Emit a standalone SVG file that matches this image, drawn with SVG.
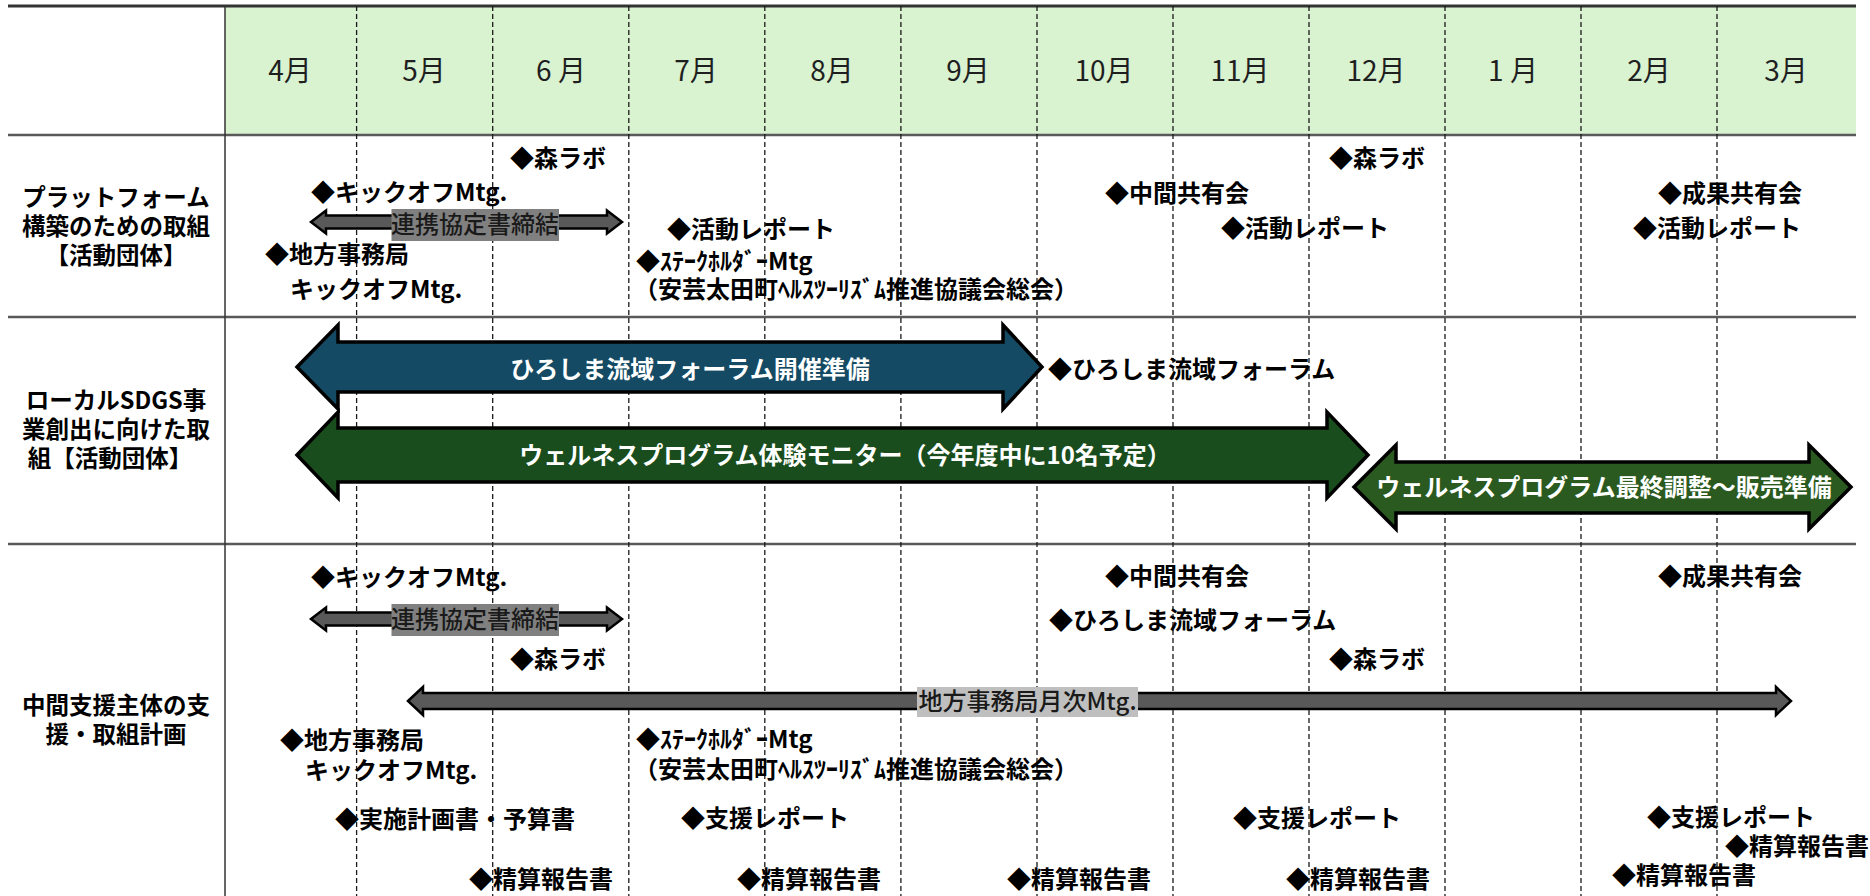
<svg xmlns="http://www.w3.org/2000/svg" width="1870" height="896" viewBox="0 0 1870 896">
<style>
text{font-family:"Noto Sans CJK JP","Noto Sans",sans-serif;}
.month{font-size:28px;font-weight:400;fill:#1f1f1f;text-anchor:middle}
.rl{font-size:23.5px;font-weight:700;fill:#000;text-anchor:middle}
.it{font-size:24px;font-weight:700;fill:#000}
.at{font-size:24px;font-weight:700;fill:#fff;text-anchor:middle}
.bl{font-size:24px;font-weight:500;fill:#1a1a1a;text-anchor:middle}
.dash{stroke:#1a1a1a;stroke-width:1.3;stroke-dasharray:5 3;fill:none}
.hl{stroke:#595959;stroke-width:2.5;fill:none}
.garrow{fill:#595959;stroke:#000;stroke-width:2.5;stroke-linejoin:miter}
.barrow{stroke:#000;stroke-width:3.5;stroke-linejoin:miter}
</style>
<rect width="1870" height="896" fill="#fff"/>
<g id="grid">
<rect x="225" y="6" width="1631" height="129" fill="#d9f2d0"/>
<line class="hl" x1="8" y1="6" x2="1856" y2="6" style="stroke:#333;stroke-width:3"/>
<line class="hl" x1="8" y1="135" x2="1856" y2="135"/>
<line class="hl" x1="8" y1="317" x2="1856" y2="317"/>
<line class="hl" x1="8" y1="544" x2="1856" y2="544"/>
<line x1="225" y1="6" x2="225" y2="896" stroke="#333" stroke-width="1.5"/>
<line class="dash" x1="356.6" y1="6" x2="356.6" y2="896"/>
<line class="dash" x1="492.7" y1="6" x2="492.7" y2="896"/>
<line class="dash" x1="628.8" y1="6" x2="628.8" y2="896"/>
<line class="dash" x1="764.8" y1="6" x2="764.8" y2="896"/>
<line class="dash" x1="900.9" y1="6" x2="900.9" y2="896"/>
<line class="dash" x1="1037" y1="6" x2="1037" y2="896"/>
<line class="dash" x1="1173" y1="6" x2="1173" y2="896"/>
<line class="dash" x1="1309" y1="6" x2="1309" y2="896"/>
<line class="dash" x1="1445" y1="6" x2="1445" y2="896"/>
<line class="dash" x1="1581" y1="6" x2="1581" y2="896"/>
<line class="dash" x1="1717" y1="6" x2="1717" y2="896"/>
</g>
<g id="months">
<text class="month" x="290" y="81">4月</text>
<text class="month" x="424" y="81">5月</text>
<text class="month" x="561" y="81">6 月</text>
<text class="month" x="696" y="81">7月</text>
<text class="month" x="832" y="81">8月</text>
<text class="month" x="968" y="81">9月</text>
<text class="month" x="1104" y="81">10月</text>
<text class="month" x="1240" y="81">11月</text>
<text class="month" x="1376" y="81">12月</text>
<text class="month" x="1513" y="81">1 月</text>
<text class="month" x="1649" y="81">2月</text>
<text class="month" x="1786" y="81">3月</text>
</g>
<g id="row-labels">
<text class="rl" x="116" y="206">プラットフォーム</text>
<text class="rl" x="116" y="235">構築のための取組</text>
<text class="rl" x="116" y="264">【活動団体】</text>
<text class="rl" x="116" y="409">ローカルSDGS事</text>
<text class="rl" x="116" y="438">業創出に向けた取</text>
<text class="rl" x="110" y="467">組【活動団体】</text>
<text class="rl" x="116" y="714">中間支援主体の支</text>
<text class="rl" x="116" y="743">援・取組計画</text>
</g>
<g id="connectors">
<polygon id="arrow-renkei-1" class="garrow" points="311,222 326,210.5 326,215.5 607,215.5 607,210.5 622,222 607,233.5 607,228.5 326,228.5 326,233.5"/>
<polygon id="arrow-renkei-3" class="garrow" points="311,619 326,607.5 326,612.5 607,612.5 607,607.5 622,619 607,630.5 607,625.5 326,625.5 326,630.5"/>
<polygon id="arrow-monthly" class="garrow" points="408,701 423,687 423,693 1776,693 1776,687 1791,701 1776,715 1776,709 423,709 423,715"/>
<polygon id="arrow-forum" class="barrow" fill="#144a63" points="297,367 338,325 338,342 1003,342 1003,325 1042,367 1003,409 1003,392 338,392 338,409"/>
<polygon id="arrow-wellness" class="barrow" fill="#1a4d1d" points="297,455 338,412 338,428 1327,428 1327,412 1368,455 1327,498 1327,482 338,482 338,498"/>
<polygon id="arrow-wellness-final" class="barrow" fill="#2a5a1f" points="1354,487 1396,445 1396,462 1809,462 1809,445 1851,487 1809,529 1809,513 1396,513 1396,529"/>
</g>
<g id="arrow-labels">
<rect x="391.5" y="209" width="167.5" height="32" fill="#808080"/>
<text class="bl" x="475" y="233">連携協定書締結</text>
<rect x="391.5" y="604" width="167.5" height="32" fill="#808080"/>
<text class="bl" x="475" y="628">連携協定書締結</text>
<rect x="917" y="687" width="221" height="30" fill="#bfbfbf"/>
<text class="bl" x="1027.5" y="710">地方事務局月次Mtg.</text>
<text class="at" x="690" y="378">ひろしま流域フォーラム開催準備</text>
<text class="at" x="845" y="464">ウェルネスプログラム体験モニター（今年度中に10名予定）</text>
<text class="at" x="1604" y="496">ウェルネスプログラム最終調整～販売準備</text>
</g>
<g id="row1-items">
<text class="it" x="510" y="167">◆森ラボ</text>
<text class="it" x="311" y="201">◆キックオフMtg.</text>
<text class="it" x="667" y="238">◆活動レポート</text>
<text class="it" x="265" y="263">◆地方事務局</text>
<text class="it" x="290" y="298">キックオフMtg.</text>
<text class="it" x="636" y="270">◆ｽﾃｰｸﾎﾙﾀﾞｰMtg</text>
<text class="it" x="634" y="298">（安芸太田町ﾍﾙｽﾂｰﾘｽﾞﾑ推進協議会総会）</text>
<text class="it" x="1105" y="202">◆中間共有会</text>
<text class="it" x="1221" y="237">◆活動レポート</text>
<text class="it" x="1329" y="167">◆森ラボ</text>
<text class="it" x="1658" y="202">◆成果共有会</text>
<text class="it" x="1633" y="237">◆活動レポート</text>
</g>
<g id="row2-items">
<text class="it" x="1048" y="378">◆ひろしま流域フォーラム</text>
</g>
<g id="row3-items">
<text class="it" x="311" y="586">◆キックオフMtg.</text>
<text class="it" x="1105" y="585">◆中間共有会</text>
<text class="it" x="1658" y="585">◆成果共有会</text>
<text class="it" x="1049" y="629">◆ひろしま流域フォーラム</text>
<text class="it" x="510" y="668">◆森ラボ</text>
<text class="it" x="1329" y="668">◆森ラボ</text>
<text class="it" x="280" y="749">◆地方事務局</text>
<text class="it" x="305" y="779">キックオフMtg.</text>
<text class="it" x="636" y="748">◆ｽﾃｰｸﾎﾙﾀﾞｰMtg</text>
<text class="it" x="634" y="778">（安芸太田町ﾍﾙｽﾂｰﾘｽﾞﾑ推進協議会総会）</text>
<text class="it" x="335" y="828">◆実施計画書・予算書</text>
<text class="it" x="681" y="827">◆支援レポート</text>
<text class="it" x="1233" y="827">◆支援レポート</text>
<text class="it" x="1647" y="826">◆支援レポート</text>
<text class="it" x="1725" y="855">◆精算報告書</text>
<text class="it" x="469" y="888">◆精算報告書</text>
<text class="it" x="737" y="888">◆精算報告書</text>
<text class="it" x="1007" y="888">◆精算報告書</text>
<text class="it" x="1286" y="888">◆精算報告書</text>
<text class="it" x="1612" y="884">◆精算報告書</text>
</g>
</svg>
